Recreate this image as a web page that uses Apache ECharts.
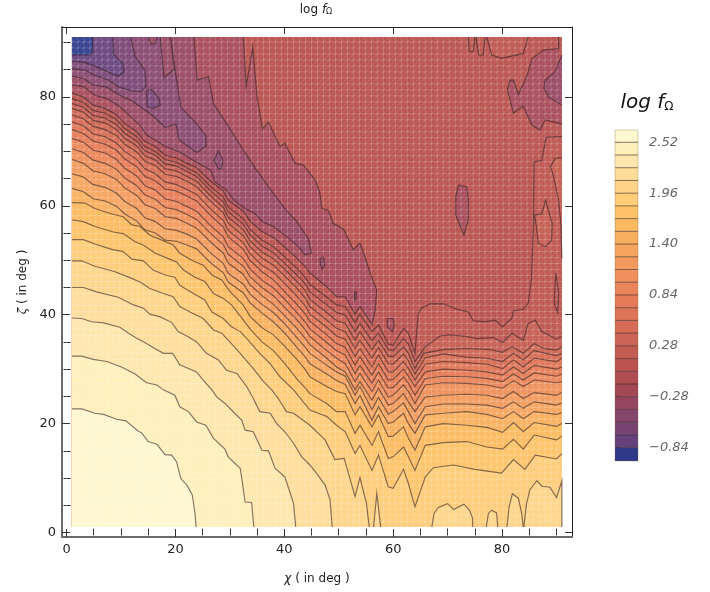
<!DOCTYPE html>
<html><head><meta charset="utf-8">
<style>html,body{margin:0;padding:0;background:#fff}#c{width:710px;height:592px}</style>
<script src="https://cdn.jsdelivr.net/npm/echarts@6/dist/echarts.min.js"></script></head>
<body><div id="c"></div>
<script>
// ---------- contour levels and legend ----------
const levels=[-0.84,-0.70,-0.56,-0.42,-0.28,-0.14,0,0.14,0.28,0.42,0.56,0.70,0.84,0.98,1.12,1.26,1.40,1.54,1.68,1.82,1.96,2.10,2.24,2.38,2.52];
const bandColors=['#2E3A87','#65407A','#764372','#85456A','#944560','#A34755','#B04D50','#BC5351','#C35C53','#CC6555','#D56C56','#DD7457','#E57B58','#EA855B','#EE8F5C','#F29A5E','#F5A460','#F8AE5F','#FBB960','#FEC268','#FFCC78','#FFD488','#FFDC98','#FFE6AC','#FFEFBA','#FFF7CF'];
const plotColors=['#34408F','#6B4680','#7C4878','#8B4A70','#994B66','#A94D5C','#BA5451','#BF5852','#C65F54','#CE6755','#D76E56','#DF7657','#E67D58','#EB875B','#EF915C','#F39C5E','#F6A660','#F9B05F','#FCBB60','#FEC46A','#FFCD7A','#FFD58A','#FFDD9A','#FFE6AC','#FFEFBA','#FFF7CF'];
const legendTicks=[2.52,1.96,1.40,0.84,0.28,-0.28,-0.84];
const majorTicks=[0,20,40,60,80];
const minorTicks=[5,10,15,25,30,35,45,50,55,65,70,75,85,90];

// ---------- low contours: [chi, zeta] in degrees ----------
const lowM084=[[1,87.7],[4.3,87.7],[4.8,88.3],[4.8,91]];
const lowM070=[[1,86.6],[3.1,86.4],[4.9,85.8],[7.1,84.8],[9.5,83.8],[10.6,84.6],[10.3,86.2],[8.7,87.7],[8.5,91]];
const lowM056=[[1,85.2],[3.4,84.9],[5.2,84],[7.7,83.1],[9.5,81.9],[12,81.1],[13.8,81],[14.6,82],[14.4,84.9],[12.6,87.4],[11.8,91]];
const lowM042=[[1,83.8],[3.1,83.4],[4.9,82.2],[7.4,81.8],[9.8,80.3],[12.3,79.1],[14.4,77.6],[16,76.4],[18.1,74.4],[20.1,75],[20.7,72.1],[23.9,69.8],[25.6,70.9],[25.6,72.8],[23.9,75.1],[21,78.1],[20,84.6],[19.1,91],[19.8,85.1],[17.9,83.6],[17.2,91]];
const lowM028=[[1,82.2],[3.1,81.9],[5.2,80.3],[7.4,79.7],[9.8,78.2],[11.4,76.7],[13.5,74.8],[14.7,73],[16.3,72.1],[18.1,70.9],[20.8,69.9],[23,68.5],[26.4,66.6],[27.3,64.4],[29.4,62.9],[30.7,61.1],[32.8,59.5],[34.6,58.6],[35.9,57.1],[38,56.2],[40.5,54.3],[42.6,52.5],[43.8,51],[45,51.3],[44.4,54],[42.3,57.1],[40.1,59.5],[37.1,63.5],[34.9,66.6],[32.5,70.2],[29.4,75.1],[27,78.8],[26.1,83.7],[24,83.1],[23.4,91]];
const lowM014=[[1,80.7],[3.1,80],[4.9,78.5],[7.1,77.9],[9.2,76.7],[10.7,75.1],[12.9,73.6],[14.4,71.8],[16.3,70.9],[18.1,69.3],[20.2,68.8],[22.1,67.8],[23.9,67],[26.4,64.6],[28.8,62.7],[29.7,61],[32.5,59],[33.7,57.2],[35.9,55.3],[38,54.2],[40.1,52.4],[42.3,50.4],[43.8,48.9],[44.7,47.7],[47.8,45.1],[49.6,43.3],[51.2,43.3],[53,40.1],[53.9,41.5],[54.8,40.2],[56.1,38.2],[56.7,40.9],[57,44.5],[55.8,47.6],[54.8,50.7],[53.9,53.1],[52.7,51.9],[50.9,55.7],[49,56.8],[48.1,59.2],[46.9,59.5],[46.5,62.5],[45.7,64.7],[44.2,66.6],[43.5,67.5],[42,67.8],[40.1,71.5],[39.2,70.9],[37.1,75.4],[36,74.2],[35,80],[34.2,89.2],[33,81.9],[32.5,91]];

// ---------- steep band: the same chi columns, one zeta list per level ----------
const chiDiag=[1,3.1,4.9,7.1,9.2,10.7,12.9,14.4,16.3,18.1,20.2,22.1,23.9,26.4,28.8,29.7,32.5,33.7,35.9,38,40.1,42.3,43.8,44.7];
const chiRipple=[47.8,49.6,51.2,53,53.9,56.1,57.3,59.1,60,61.9,62.8,64];
const chiRight=[65.9,69.2,73.5,77.2,80.1,82.1,83.9,85.9,90,91];

const diag000=[79.7,79,77.5,77,75.8,74.2,72.7,70.9,70,68.5,68,67,66.1,63.6,61.6,59.8,57.6,55.7,53.7,52.5,50.6,48.5,46.9,45.6];
const diag014=[78.8,78.1,76.6,76.1,74.9,73.3,71.9,70.1,69.3,67.7,67.3,66.3,65.4,62.8,60.7,58.9,56.6,54.7,52.6,51.4,49.4,47.3,45.7,44.2];
const diag028=[77.9,77.2,75.7,75.2,74,72.4,71,69.2,68.4,66.8,66.4,65.4,64.5,61.9,59.7,57.9,55.6,53.6,51.5,50.3,48.3,46.1,44.5,42.8];
const diag042=[76.7,76,74.6,74,72.9,71.3,69.9,68.2,67.4,65.8,65.4,64.5,63.5,60.9,58.7,56.8,54.5,52.5,50.4,49.1,47.1,44.9,43.1,41.5];
const diag056=[75.4,74.7,73.2,72.7,71.5,70,68.5,66.8,65.9,64.4,63.9,63,62.1,59.5,57.3,55.5,53.2,51.2,49.1,47.8,45.7,43.4,41.7,40.1];
const diag070=[74,73.3,71.9,71.3,70.2,68.6,67.2,65.4,64.6,63.1,62.7,61.8,60.9,58.3,56.1,54.3,52,50,47.9,46.4,44.2,41.9,40.2,38.8];
const diag084=[72.4,71.7,70.2,69.7,68.5,66.9,65.5,63.7,62.9,61.3,60.8,59.9,59,56.4,54.3,52.5,50.3,48.4,46.3,44.9,42.8,40.4,38.7,37.4];
const diag098=[70.5,69.8,68.4,67.8,66.7,65.1,63.7,62,61.2,59.7,59.3,58.4,57.5,55,52.9,51.1,48.9,47,45,43.5,41.3,39.1,37.3,36];
const diag112=[68.5,67.8,66.4,65.9,64.8,63.3,61.9,60.2,59.5,58,57.7,56.8,55.9,53.4,51.3,49.5,47.4,45.5,43.5,41.9,39.8,37.5,35.7,34.5];
const diag126=[65.9,65.3,63.9,63.4,62.3,60.8,59.5,57.8,57.1,55.8,55.5,54.8,53.9,51.4,49.4,47.6,45.6,43.8,41.9,40.4,38.3,35.8,34.1,32.9];
const diag140=[63.2,62.6,61.3,60.9,59.9,58.5,57.2,55.6,55,53.7,53.5,52.8,52.1,49.6,47.7,46,44,42.2,40.3,38.7,36.6,34,32.3,31];

const ripple000=[43.2,41.8,41.5,38.5,40.1,36.9,38.1,34.6,34.4,37.5,36.6,32.9];
const ripple014=[41.8,40.4,39.9,36.9,38.4,35.2,36.6,33.6,33.4,35.6,34.6,31.4];
const ripple028=[40.4,38.9,38.4,35.3,36.9,33.6,35.3,32.4,32.3,34.1,32.9,30.1];
const ripple042=[39,37.5,36.9,33.8,35.3,32,34,31,30.9,32.8,31.5,29.1];
const ripple056=[37.7,36.1,35.5,32.3,33.8,30.4,32.6,29.5,29.5,31.4,30.1,28];
const ripple070=[36.3,34.7,34,30.7,32.3,28.9,31,28,28.1,30,28.7,26.8];
const ripple084=[34.9,33.4,32.6,29.2,30.7,27.4,29.5,26.5,26.6,28.6,27.4,25.2];
const ripple098=[33.4,32,31,27.7,29.2,25.9,28,24.9,25.2,27.1,25.9,23.7];
const ripple112=[32,30.4,29.5,26.2,27.7,24.3,26.5,23.4,23.7,25.5,24,22.2];
const ripple126=[30.7,29.5,28.7,25.2,26.8,22.6,24.8,21.7,22.2,23.8,22.2,20];
const ripple140=[29.1,27.9,27.2,23.7,25.2,20.6,23.1,20,20.3,21.9,20,18.2];

const right042=[32.1,32.8,32.2,32,31.4,32.9,31.7,33.4,32.5,32.9];
const right056=[30.9,31.4,31.2,30.9,30.1,31.7,30.4,32,31.4,32];
const right070=[29.5,30,29.8,29.5,28.9,30.4,29.2,30.7,30,30.4];
const right084=[28.3,28.7,28.6,28.3,27.7,29.1,28,29.3,28.7,29.1];
const right098=[27.1,27.5,27.4,27.1,26.5,27.9,26.8,28,27.5,27.7];
const right112=[24.9,25.2,25.4,25.2,24.6,25.9,24.6,25.7,25.2,25.7];
const right126=[23.1,23.6,23.6,23.4,22.8,24,22.8,24,23.4,23.8];
const right140=[21.6,21.9,22.2,21.7,20.9,22.2,20.9,22.2,21.7,22];
const right154=[19.4,20,19.7,19.3,18.4,20.2,18.5,20.2,19.5,20];
const right168=[16,16.5,16.7,15.7,15.3,17.1,15.3,17.9,17,17.7];

const tail000=[[64.6,40.2],[65.2,41.2],[66.8,42],[69.2,42],[71.7,41],[73.8,40.5],[74.7,38.9],[76.9,38.7],[78.7,39],[80.1,37.8],[81.8,39.3],[82.1,40.7],[83.9,41],[84.8,42.1],[85.4,46.4],[85.8,56.8],[85.8,61.1],[85.9,68.1],[87.3,68.3],[88.1,72.6],[91,72.7]];
const tail014=[[65.9,34.1],[68.6,36.1],[70.4,36.3],[73.5,36],[75.3,35.6],[78.4,35.8],[80.1,34.9],[81.8,36.6],[83.9,35.3],[84.8,38.4],[86.1,39],[87.3,36.9],[90,35.5],[91,36]];
const tail028=[[65.6,32.9],[69.2,33.6],[73.5,33.8],[77.8,33.6],[80.1,33.1],[81.8,34.1],[83.9,32.9],[85.9,34.7],[87.6,33.8],[90,33.5],[91,34.1]];

const high154=[[1,60.6],[3.4,60.5],[5.2,59.5],[8,58.6],[10.4,58],[12,56.5],[13.5,56.2],[15.3,54.6],[17.5,53.7],[19.6,52.8],[20.8,51.3],[23,50],[25.1,49.1],[26.7,47.3],[28.5,46.4],[30,44.3],[32.5,41.7],[33.7,39.7],[35.9,37.6],[38,36.3],[40.1,34.2],[42.3,31.8],[43.8,30],[44.7,28.6],[47.8,26.8],[49.6,25.9],[51.2,25.5],[53,21.6],[53.9,23.1],[56.1,19.4],[57.3,21.6],[59.1,17.6],[60,17.7],[61.9,19.4],[62.8,17.3],[64,15.1]];
const high168=[[1,57.4],[3.1,57.1],[5.2,56.2],[8.6,55.2],[10.4,54.9],[12.6,53.4],[14.1,52.8],[16.3,51.3],[18.7,50.3],[20.2,49.7],[21.5,48.2],[23.6,46.9],[25.4,46.1],[27,43.9],[28.8,43],[30.3,41.8],[32.5,39],[33.7,37.4],[35.9,35],[38,33.4],[40.1,31],[42.3,28.2],[43.8,26.6],[44.7,25.5],[47.8,23.7],[49.6,22.2],[51.2,22.2],[53,18.2],[53.9,19.7],[56.1,16],[57.3,18.5],[59.1,13.6],[60,13.9],[61.9,15.7],[62.8,13.9],[64,11.4]];
const high182=[[1,53.8],[3.1,53.8],[5.2,53],[8.3,52],[10.4,51.6],[12,50.2],[14.1,49.9],[15.9,48.2],[18.1,47.3],[19.9,46.9],[20.8,45.4],[23.3,43.9],[25.4,42.7],[26.7,40.5],[28.8,39.3],[30.3,37.8],[31.9,36.9],[33.4,35.3],[35.5,32.9],[37.4,31],[39.2,28.6],[41.7,26.2],[44.7,22.5],[47.8,21.3],[49.6,19.7],[51.2,18.5],[53,14.5],[53.9,16],[56.1,11.4],[57.3,14.2],[59.1,8.4],[60,8.1],[61.9,11.6],[62.8,9],[64,4.7],[65.9,10.2],[67.4,11.9],[71.1,12.4],[75,11.6],[79.9,10.9],[82.1,13.4],[84.2,11.6],[86.1,14.2],[90,13.5],[91,14.5]];
const high196=[[1,49.9],[2.8,49.9],[5.2,48.9],[8.9,47.9],[11.4,46.9],[13.5,46],[15.3,44.8],[17.8,43.9],[19.6,43.3],[20.8,41.5],[22.7,40.5],[25.1,39.3],[27,37.2],[28.5,36.6],[30,35],[31.9,32.9],[34.3,30.1],[36.2,27.7],[37.7,26.2],[38.9,24.6],[40.4,22.2],[41.7,21.9],[44.7,19.7],[47.5,17],[49.3,13.4],[51,13.6],[53,6.6],[53.9,10.1],[55.1,5.3],[55.6,1]];
const high210=[[1,45],[3.1,45],[5.5,44.2],[9.5,43.2],[12.3,41.8],[14.1,41.2],[15.3,40.1],[17.2,39.6],[19.3,38.6],[20.5,36.9],[22.1,36.1],[23.9,35],[25.7,32.9],[27.9,31.7],[29.4,29.8],[31.3,29.2],[33.1,26.8],[34.3,24.6],[35.5,22.2],[37.4,21.9],[38.6,20],[40.1,18.5],[41.7,16.4],[43.2,13.9],[44.7,12.4],[45.9,10.9],[47.5,8.7],[48.4,6],[48.8,1]];
const high224=[[1,39.4],[2.8,39.3],[4.6,38.7],[6.8,38.5],[9.8,37.7],[11.4,36.6],[12.9,35.7],[14.7,34.7],[15.9,34],[17.8,32.9],[19.5,32.9],[20.8,30.8],[23.9,29.5],[25.1,28],[26.7,26.2],[27.6,24.9],[29.1,23.7],[30.3,22.5],[32.2,20.6],[32.8,18.8],[34.3,18.5],[35.9,15.1],[37.1,15],[38.3,11.8],[40.1,10.2],[41.1,7.2],[41.7,5.3],[42.1,1]];
const high238=[[1,32.4],[2.8,32.4],[4.9,31.8],[7.4,31.4],[10.1,30.4],[12.6,29.1],[14.7,27.5],[16.6,27.1],[17.8,26.2],[19.9,25.2],[20.8,23.1],[22.4,22.2],[23.9,20.3],[25.6,19.7],[27,17.3],[29.1,15.3],[29.7,13.9],[31.9,11.8],[32.2,9.9],[32.8,5.6],[34,5.5],[34.4,1]];
const high252=[[1,22.7],[2.8,22.7],[5.2,21.9],[6.8,21.7],[9.2,20.8],[10.9,20.5],[13.2,18.6],[13.8,18.3],[15,16.7],[16.6,16.2],[18.1,14.3],[19.3,14.2],[20.2,13],[21,9.9],[22.1,8.7],[23.1,6.9],[23.6,3.5],[23.8,1]];

// ---------- islands ----------
const islandBlueA=[[14.7,81.1],[15.6,81.4],[17,79.7],[17.2,78.5],[16,77.9],[14.8,78.2]];
const islandPurpleA=[[27.9,70.1],[28.7,68.4],[28.5,66.9],[27.9,66.7],[27.1,68.4]];
const islandPurpleB=[[46.6,50.3],[47.2,50.6],[47.4,49.1],[47,48.3],[46.6,49.3]];
const islandPurpleC=[[52.9,44.2],[53.2,44.2],[53.2,42.8],[52.9,42.8]];
const islandCentre=[[72,63.8],[73.5,63.5],[73.8,61],[73.8,57.4],[73,54.6],[71.5,58.3],[71.5,61.7]];
const islandRipple=[[58.9,39.3],[60,39.3],[60.2,38.1],[59.9,36.9],[58.9,37.8]];
const rightLobe=[[90.4,91],[90.4,88.9],[87.6,88.6],[85.5,87],[84.5,83.7],[83,80.5],[82.1,83.1],[81.5,83.1],[81,81.3],[82.1,77],[83.9,78.3],[85.5,74.8],[87,73.9],[87.9,75.8],[91,75]];
const rightLobeInner=[[91,87.7],[89.7,84.6],[87.9,83.1],[87.7,81.6],[88.5,80],[91,78.5]];
const toothTopA=[[15,91],[15.6,89.7],[16.3,89.8],[16.6,91]];
const toothTopB=[[73.8,91],[74,88.3],[74.7,88.3],[75,91]];
const toothTopC=[[75.2,91],[75.7,87.7],[76.5,87.7],[76.9,91]];
const toothTopD=[[77.2,91],[78.1,87.7],[79.9,87.1],[83.9,88],[84.8,91]];
const rightLens=[[85.9,58.3],[87.3,58.5],[88,61],[89.2,56.8],[89.1,53.7],[87.9,52.5],[86.7,53.1],[86.1,57.7]];
const rightPatch=[[91,68.9],[89.7,68.7],[88.9,67.2],[89.4,65.7],[90.4,61],[90.8,56.8],[91,50.3]];
const rightSliver=[[89.9,47.6],[90.4,44],[90.2,40.4],[89.6,42],[89.7,45]];
const hillA=[[56.4,1],[57,7.2],[57.7,1]];
const hillB=[[67.1,1],[67.5,3.5],[68.3,4.6],[70,5.3],[71.1,4.2],[73,5.2],[74,4.1],[74.6,2.6],[74.6,1]];
const hillC=[[77.1,1],[77.5,3.5],[78.1,4.1],[79,3.6],[79.2,1]];
const hillD=[[80.9,1],[81.3,4.7],[81.9,7.1],[83,6.3],[83.6,3.5],[83.9,1]];
const hillE=[[84,1],[84.5,5.3],[85.1,7.8],[86.4,9.5],[87.3,8.5],[88.8,8.3],[90,6.4],[91,9.5],[91,1]];

// ---------- assembling (no new values here) ----------
function joinLine(zD,zR,tail){
  const a=chiDiag.map((c,i)=>[c,zD[i]]).concat(chiRipple.map((c,i)=>[c,zR[i]]));
  return a.concat(tail);
}
function withRight(zR){return chiRight.map((c,i)=>[c,zR[i]]);}
const band=l=>plotColors[levels.indexOf(l)+1];       // colour above level l
const below=l=>plotColors[levels.indexOf(l)];        // colour below level l
const X0=1,X1=91,Y0=1,Y1=91;
const shapes=[];
function low(pts,l){shapes.push({pts:pts.concat([[X0,Y1]]),line:pts,color:below(l)});}
function high(pts,l){
  const last=pts[pts.length-1];
  const close=last[0]>=X1?[[X1,Y0],[X0,Y0]]:[[X0,Y0]];
  shapes.push({pts:pts.concat(close),line:pts,color:band(l)});
}
function island(pts,color){shapes.push({pts:pts,line:pts.concat([pts[0]]),color:color});}
function openIsland(pts,color){shapes.push({pts:pts,line:pts,color:color});}

low(lowM014,-0.14);low(lowM028,-0.28);low(lowM042,-0.42);low(lowM056,-0.56);low(lowM070,-0.70);low(lowM084,-0.84);
island(islandBlueA,below(-0.56));island(islandPurpleA,below(-0.42));island(islandPurpleB,below(-0.28));island(islandPurpleC,below(-0.28));
openIsland(toothTopA,band(-0.42));
openIsland(rightLobe,below(-0.14));openIsland(rightLobeInner,below(-0.28));
island(islandCentre,below(-0.14));island(islandRipple,below(-0.14));
openIsland(toothTopB,band(0));openIsland(toothTopC,band(0));openIsland(toothTopD,band(0));
high(joinLine(diag000,ripple000,tail000),0);
island(rightLens,band(0.14));openIsland(rightPatch,band(0.14));island(rightSliver,below(0));
high(joinLine(diag014,ripple014,tail014),0.14);
high(joinLine(diag028,ripple028,tail028),0.28);
high(joinLine(diag042,ripple042,withRight(right042)),0.42);
high(joinLine(diag056,ripple056,withRight(right056)),0.56);
high(joinLine(diag070,ripple070,withRight(right070)),0.70);
high(joinLine(diag084,ripple084,withRight(right084)),0.84);
high(joinLine(diag098,ripple098,withRight(right098)),0.98);
high(joinLine(diag112,ripple112,withRight(right112)),1.12);
high(joinLine(diag126,ripple126,withRight(right126)),1.26);
high(joinLine(diag140,ripple140,withRight(right140)),1.40);
high(high154.concat(withRight(right154)),1.54);
high(high168.concat(withRight(right168)),1.68);
high(high182,1.82);
high(high196,1.96);
openIsland(hillA,band(1.96));openIsland(hillB,band(1.96));openIsland(hillC,band(1.96));openIsland(hillD,band(1.96));openIsland(hillE,band(1.96));
high(high210,2.10);high(high224,2.24);high(high238,2.38);high(high252,2.52);

const AX={min:-0.83,max:92.85};
const ink='#222';
function mkX(pos,len,ticks,line,labels){return {type:'value',gridIndex:0,position:pos,min:AX.min,max:AX.max,splitLine:{show:false},
  axisLine:line?{show:true,onZero:false,lineStyle:line}:{show:false},
  axisTick:{show:true,inside:true,length:len,customValues:ticks,lineStyle:{color:'#333',width:1}},
  axisLabel:labels?{show:true,customValues:labels,color:ink,fontFamily:'DejaVu Sans',fontSize:13,margin:6}:{show:false}};}
const BL={color:'#6b6b6b',width:2},TR={color:'#222',width:1};
const xAxes=[mkX('bottom',8,majorTicks,BL,majorTicks),mkX('bottom',4,minorTicks,null,null),mkX('top',7,majorTicks,TR,null),mkX('top',3,minorTicks,null,null)];
const yAxes=[mkX('left',8,majorTicks,BL,majorTicks),mkX('left',4,minorTicks,null,null),mkX('right',7,majorTicks,TR,null),mkX('right',3,minorTicks,null,null)];
xAxes[0].name='{i|χ} ( in deg )';xAxes[0].nameLocation='middle';xAxes[0].nameGap=36;
xAxes[0].nameTextStyle={fontFamily:'DejaVu Sans',fontSize:12,color:ink,rich:{i:{fontStyle:'italic',fontFamily:'DejaVu Sans',fontSize:12,color:ink}}};
yAxes[0].name='{i|ζ} ( in deg )';yAxes[0].nameLocation='middle';yAxes[0].nameGap=33;
yAxes[0].nameTextStyle={fontFamily:'DejaVu Sans',fontSize:12,color:ink,rich:{i:{fontStyle:'italic',fontFamily:'DejaVu Sans',fontSize:12,color:ink}}};
xAxes.push({type:'value',gridIndex:1,min:0,max:1,show:false});
yAxes.push({type:'value',gridIndex:1,position:'right',min:-0.987,max:2.655,splitLine:{show:false},axisLine:{show:false},
  axisTick:{show:true,length:6,customValues:legendTicks,lineStyle:{color:'#888',width:1}},
  axisLabel:{show:true,customValues:legendTicks,margin:11,color:'#666',fontStyle:'italic',fontFamily:'DejaVu Sans',fontSize:13,
    formatter:v=>Number(v).toFixed(2).replace('-','\u2212')}});

const meshStep=1.1, meshN=82;
const mesh=[];for(let i=0;i<=meshN;i++)mesh.push(i);

option={animation:false,backgroundColor:'#fff',
  title:[{text:'log {i|f}{s|Ω}',left:311,top:-2,textAlign:'center',textStyle:{fontFamily:'DejaVu Sans',fontSize:12,fontWeight:'normal',color:ink,
      rich:{i:{fontStyle:'italic',fontFamily:'DejaVu Sans',fontSize:12,color:ink},s:{fontFamily:'DejaVu Sans',fontSize:8,color:ink,padding:[5,0,0,0]}}}},
    {text:'{i|log f}{s|Ω}',left:642,top:87,textAlign:'center',textStyle:{fontFamily:'DejaVu Sans',fontSize:20,fontWeight:'normal',color:'#111',
      rich:{i:{fontStyle:'italic',fontFamily:'DejaVu Sans',fontSize:20,color:'#111'},s:{fontFamily:'DejaVu Sans',fontSize:12,color:'#111',padding:[9,0,0,0]}}}}],
  grid:[{left:62,width:510,top:27,height:510,containLabel:false},{left:615,width:23,top:130,height:331}],
  xAxis:xAxes,yAxis:yAxes,
  series:[
   {type:'custom',xAxisIndex:0,yAxisIndex:0,silent:true,z:1,clip:true,data:[[0]],encode:{x:-1,y:-1},
    renderItem:(p,api)=>{const a=api.coord([X0,Y1]),b=api.coord([X1,Y0]);
      return {type:'rect',shape:{x:a[0],y:a[1],width:b[0]-a[0],height:b[1]-a[1]},style:{fill:band(-0.14)}};}},
   {type:'custom',xAxisIndex:0,yAxisIndex:0,silent:true,z:2,clip:true,data:shapes.map((s,i)=>[i]),encode:{x:-1,y:-1},
    renderItem:(p,api)=>{const s=shapes[p.dataIndex];
      return {type:'polygon',shape:{points:s.pts.map(q=>api.coord(q))},style:{fill:s.color}};}},
   {type:'custom',xAxisIndex:0,yAxisIndex:0,silent:true,z:3,clip:true,data:[[0]],encode:{x:-1,y:-1},
    renderItem:(p,api)=>{const ch=[];
      const L=(a,b,o)=>{const A=api.coord(a),B=api.coord(b);ch.push({type:'line',shape:{x1:A[0],y1:A[1],x2:B[0],y2:B[1]},style:{stroke:'rgba(255,255,255,'+o+')',lineWidth:1}});};
      mesh.forEach(i=>{const v=X0+i*meshStep;
        L([v,Y0],[v,Y1],0.2);L([X0,v],[X1,v],0.2);
        if(i<meshN){L([X0,v],[X1-i*meshStep,Y1],0.13);}
        if(i>0&&i<meshN){L([v,Y0],[X1,Y1-i*meshStep],0.13);}
      });
      return {type:'group',children:ch};}},
   {type:'custom',xAxisIndex:0,yAxisIndex:0,silent:true,z:4,clip:true,data:shapes.map((s,i)=>[i]),encode:{x:-1,y:-1},
    renderItem:(p,api)=>{const s=shapes[p.dataIndex];
      return {type:'polyline',shape:{points:s.line.map(q=>api.coord(q))},style:{stroke:'rgba(50,35,35,0.6)',lineWidth:1.15,fill:null}};}},
   {type:'custom',xAxisIndex:4,yAxisIndex:4,silent:true,z:2,data:bandColors.map((c,i)=>[i]),encode:{x:-1,y:-1},
    renderItem:(p,api)=>{const i=p.dataIndex;
      const lo=i===0?-0.987:levels[i-1], hi=i===bandColors.length-1?2.655:levels[i];
      const a=api.coord([0,hi]),b=api.coord([1,lo]);
      const ch=[{type:'rect',shape:{x:a[0],y:a[1],width:b[0]-a[0],height:b[1]-a[1]},style:{fill:bandColors[i]}}];
      if(i>0)ch.push({type:'line',shape:{x1:a[0],y1:b[1],x2:b[0],y2:b[1]},style:{stroke:'rgba(50,35,35,0.6)',lineWidth:1}});
      if(i===bandColors.length-1){const t=api.coord([0,2.655]),u=api.coord([1,-0.987]);
        ch.push({type:'rect',shape:{x:t[0],y:t[1],width:u[0]-t[0],height:u[1]-t[1]},style:{fill:'none',stroke:'rgba(120,100,60,0.3)',lineWidth:1}});}
      return {type:'group',children:ch};}}
  ]};
echarts.init(document.getElementById('c'),null,{renderer:'canvas'}).setOption(option);
</script></body></html>
